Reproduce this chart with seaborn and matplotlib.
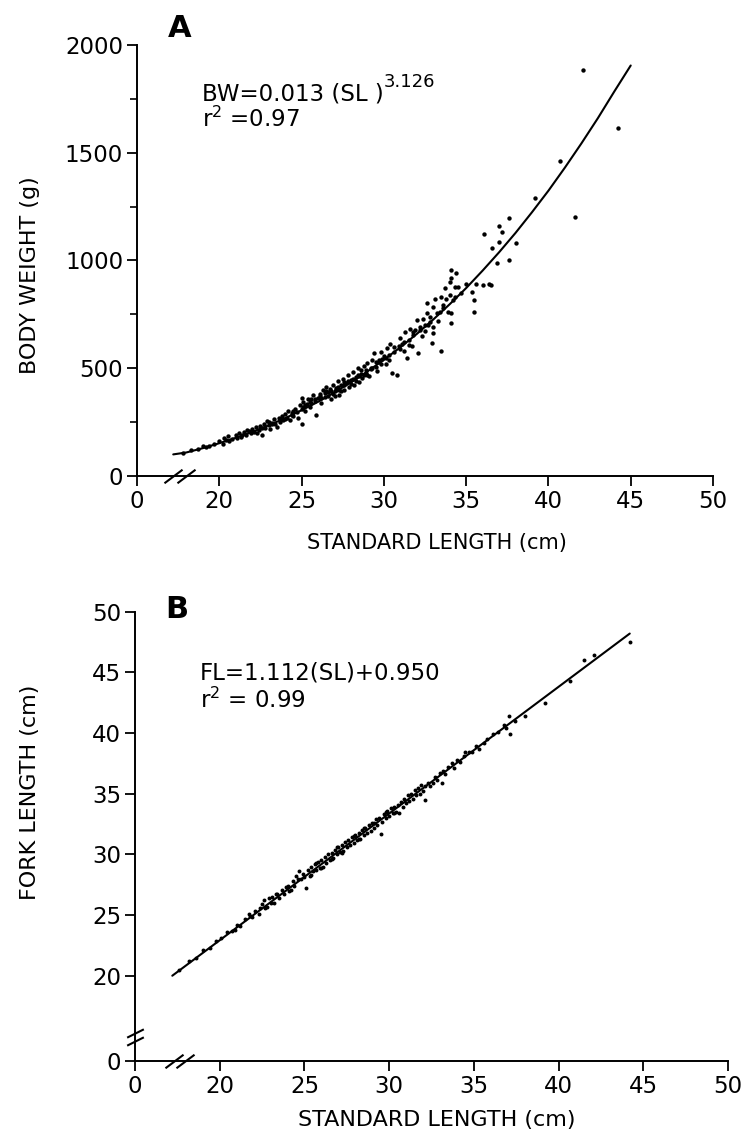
import matplotlib
matplotlib.use("Agg")
import matplotlib.pyplot as plt
from matplotlib.path import Path
import seaborn as sns

# Panel A: body weight vs standard length
sl_a = [17.8, 18.3, 18.7, 19.0, 19.4, 19.7, 20.0, 20.2, 20.3, 20.5,
        20.6, 20.8, 21.0, 21.1, 21.3, 21.5, 21.6, 21.7, 21.9, 22.0,
        22.1, 22.2, 22.4, 22.5, 22.6, 22.7, 22.8, 22.9, 23.0, 23.1,
        23.2, 23.3, 23.4, 23.5, 23.6, 23.7, 23.8, 23.9, 24.0, 24.1,
        24.2, 24.3, 24.4, 24.5, 24.6, 24.7, 24.8, 24.9, 25.0, 25.0,
        25.0, 25.1, 25.2, 25.3, 25.4, 25.5, 25.6, 25.7, 25.8, 25.9,
        26.0, 26.1, 26.2, 26.3, 26.4, 26.5, 26.6, 26.7, 26.8, 26.9,
        27.0, 27.1, 27.2, 27.3, 27.4, 27.5, 27.6, 27.7, 27.8, 27.9,
        28.0, 28.1, 28.2, 28.3, 28.4, 28.5, 28.6, 28.7, 28.8, 28.9,
        29.0, 29.1, 29.2, 29.3, 29.4, 29.5, 29.6, 29.7, 29.8, 29.9,
        30.0, 30.1, 30.2, 30.3, 30.4, 30.5, 30.6, 30.8, 30.9, 31.0,
        31.1, 31.2, 31.3, 31.4, 31.5, 31.6, 31.7, 31.8, 31.9, 32.0,
        32.1, 32.2, 32.3, 32.4, 32.5, 32.6, 32.6, 32.7, 32.8, 32.9,
        33.0, 33.0, 33.0, 33.1, 33.2, 33.3, 33.5, 33.5, 33.6, 33.7,
        33.8, 33.9, 34.0, 34.0, 34.1, 34.1, 34.1, 34.1, 34.2, 34.3,
        34.4, 34.5, 34.7, 35.0, 35.35, 35.5, 35.5, 35.6, 36.0, 36.06,
        36.4, 36.5, 36.6, 36.9, 37.0, 37.0, 37.2, 37.6, 37.6, 38.0,
        39.2, 40.7, 41.6, 42.1, 44.2,
        26.2, 26.6, 27.0, 27.3, 27.6, 28.0, 28.3, 28.6, 29.0, 29.3,
        29.8, 30.3, 22.3, 23.0, 24.0, 24.5, 25.5, 25.2, 21.2, 20.4,
        19.2, 27.8, 28.8, 29.5, 31.0, 31.5, 32.5, 33.4, 26.9, 27.4,
        21.4, 21.8, 22.6, 23.2, 23.8, 24.4, 25.1, 25.6, 26.1, 26.5,
        26.8, 27.2, 27.6, 28.1, 28.4, 28.9, 29.2, 29.7, 30.1, 30.6,
        31.2, 31.8, 32.2, 32.8, 33.6, 34.3, 25.8, 26.4, 27.1, 28.5]
bw_a = [108, 120, 126, 140, 138, 150, 162, 148, 175, 185,
        160, 170, 192, 176, 182, 205, 190, 212, 198, 218,
        206, 225, 212, 232, 190, 240, 222, 255, 236, 218,
        248, 262, 240, 228, 268, 252, 278, 258, 286, 270,
        300, 258, 290, 278, 312, 295, 270, 330, 312, 362,
        240, 345, 302, 332, 356, 322, 340, 374, 350, 285,
        362, 382, 338, 398, 366, 412, 372, 402, 356, 424,
        392, 408, 442, 378, 420, 452, 398, 432, 468, 414,
        446, 482, 424, 460, 502, 438, 472, 456, 512, 480,
        522, 466, 496, 540, 570, 506, 488, 528, 576, 542,
        556, 520, 592, 562, 612, 478, 576, 470, 602, 642,
        612, 582, 668, 548, 632, 682, 602, 652, 678, 724,
        571, 690, 650, 728, 672, 756, 804, 700, 740, 617,
        693, 663, 782, 822, 758, 718, 581, 832, 792, 874,
        820, 762, 900, 842, 710, 756, 919, 956, 817, 878,
        940, 878, 850, 890, 855, 817, 762, 891, 886, 1121,
        891, 886, 1058, 988, 1160, 1086, 1133, 1197, 1002, 1081,
        1290, 1462, 1202, 1884, 1615,
        360, 390, 370, 400, 420, 425, 440, 492, 470, 500,
        520, 540, 200, 250, 262, 300, 345, 330, 198, 168,
        135, 440, 470, 530, 590, 610, 700, 760, 380, 395,
        188, 208, 222, 240, 262, 282, 318, 356, 372, 392,
        394, 414, 436, 448, 470, 492, 502, 536, 548, 598,
        620, 668, 676, 716, 780, 830, 356, 384, 398, 462]

# fitted curve as drawn in panel A
curve_sl = [17.2, 18, 19, 20, 21, 22, 23, 24, 25, 26, 27, 28, 29, 30, 31,
            32, 33, 34, 35, 36, 37, 38, 39, 40, 41, 42, 43, 44, 45]
curve_bw = [100, 109, 129, 152, 177, 204, 235, 268, 305, 344, 388, 434, 485,
            539, 597, 659, 726, 797, 872, 953, 1038, 1128, 1224, 1324, 1431,
            1543, 1660, 1784, 1905]

# Panel B: fork length vs standard length
sl_b = [17.6, 18.2, 18.6, 19.0, 19.4, 19.8, 20.1, 20.4, 20.7, 21.0,
        21.2, 21.5, 21.7, 21.9, 22.1, 22.3, 22.5, 22.6, 22.7, 22.9,
        23.0, 23.1, 23.2, 23.4, 23.5, 23.7, 23.8, 24.0, 24.1, 24.3,
        24.4, 24.6, 24.7, 24.8, 24.9, 25.0, 25.1, 25.2, 25.3, 25.4,
        25.5, 25.6, 25.7, 25.8, 25.9, 26.0, 26.1, 26.2, 26.3, 26.4,
        26.5, 26.6, 26.7, 26.8, 26.9, 27.0, 27.1, 27.2, 27.3, 27.4,
        27.5, 27.6, 27.7, 27.8, 27.9, 28.0, 28.1, 28.2, 28.3, 28.4,
        28.5, 28.6, 28.7, 28.8, 28.9, 29.0, 29.1, 29.2, 29.3, 29.4,
        29.5, 29.6, 29.7, 29.8, 29.9, 30.0, 30.1, 30.2, 30.3, 30.4,
        30.5, 30.6, 30.7, 30.8, 30.9, 31.0, 31.1, 31.2, 31.3, 31.4,
        31.5, 31.6, 31.7, 31.8, 31.9, 32.0, 32.1, 32.1, 32.3, 32.4,
        32.6, 32.7, 32.8, 33.0, 33.1, 33.2, 33.3, 33.5, 33.7, 33.8,
        34.0, 34.2, 34.4, 34.5, 34.7, 34.9, 35.1, 35.3, 35.6, 35.8,
        36.1, 36.4, 36.75, 36.9, 37.1, 37.15, 37.4, 38.0, 39.2, 40.65,
        41.5, 42.1, 44.2,
        20.9, 21.8, 22.4, 23.3, 24.2, 25.4, 26.0, 26.6, 27.2, 27.9,
        28.5, 29.1, 29.8, 30.3, 24.5, 23.9, 22.8, 25.7, 26.9, 28.2]
fl_b = [20.5, 21.2, 21.5, 22.1, 22.3, 22.9, 23.1, 23.6, 23.7, 24.2,
        24.1, 24.7, 25.1, 24.8, 25.3, 25.1, 25.9, 26.2, 25.6, 26.4,
        26.0, 26.5, 26.0, 26.7, 26.4, 27.1, 26.7, 27.4, 27.0, 27.8,
        27.4, 28.0, 28.6, 28.0, 28.4, 28.1, 27.2, 28.7, 28.2, 29.0,
        28.6, 29.2, 28.7, 29.4, 28.9, 29.5, 29.0, 29.8, 29.3, 30.0,
        29.5, 30.1, 29.7, 30.4, 30.0, 30.6, 30.2, 30.8, 30.3, 31.0,
        30.6, 31.2, 30.8, 31.4, 30.9, 31.6, 31.2, 31.8, 31.3, 32.0,
        31.6, 32.2, 31.8, 32.4, 31.9, 32.6, 32.2, 32.9, 32.4, 33.0,
        31.7, 32.7, 33.3, 33.0, 33.6, 33.2, 33.8, 33.4, 33.9, 33.5,
        34.1, 33.4, 34.3, 33.9, 34.6, 34.2, 34.9, 34.4, 35.0, 34.6,
        35.3, 34.9, 35.5, 35.0, 35.7, 35.2, 35.6, 34.5, 35.9, 35.6,
        35.9, 36.4, 36.1, 36.7, 35.9, 36.9, 36.6, 37.2, 37.5, 37.1,
        37.8, 37.6, 38.1, 38.4, 38.4, 38.4, 38.9, 38.7, 39.2, 39.5,
        39.9, 40.1, 40.7, 40.4, 41.4, 39.9, 41.0, 41.4, 42.5, 44.3,
        46.0, 46.4, 47.5,
        23.8, 24.9, 25.6, 26.7, 27.1, 28.3, 28.9, 29.6, 30.1, 31.5,
        32.2, 32.6, 33.5, 33.4, 28.2, 27.3, 25.7, 29.3, 30.6, 31.3]

# fitted line as drawn in panel B
fit_sl = [17.2, 44.2]
fit_fl = [20.0, 48.2]

a_xticks = [15, 20, 25, 30, 35, 40, 45, 50]
a_xticklabels = ["0", "20", "25", "30", "35", "40", "45", "50"]
a_yticks = [0, 500, 1000, 1500, 2000]
b_yticks = [13, 20, 25, 30, 35, 40, 45, 50]
b_yticklabels = ["0", "20", "25", "30", "35", "40", "45", "50"]

sns.set_theme(style="ticks")
plt.rcParams["font.family"] = ["DejaVu Sans"]
plt.rcParams["mathtext.default"] = "regular"
plt.rcParams["text.color"] = "black"
plt.rcParams["axes.labelcolor"] = "black"
plt.rcParams["xtick.color"] = "black"
plt.rcParams["ytick.color"] = "black"

fig = plt.figure(figsize=(7.48, 11.4), dpi=100)
ax_a = fig.add_axes([0.1832, 0.5825, 0.770, 0.378])
ax_b = fig.add_axes([0.1805, 0.0696, 0.7928, 0.3938])

slash = Path([(-1.0, -0.75), (1.0, 0.75)], [Path.MOVETO, Path.LINETO])
slash_v = Path([(-0.9, -0.45), (0.9, 0.45)], [Path.MOVETO, Path.LINETO])


def style_axis(ax):
    sns.despine(ax=ax)
    for s in ("left", "bottom"):
        ax.spines[s].set_linewidth(1.4)
        ax.spines[s].set_color("black")
    ax.tick_params(axis="both", which="major", direction="out", length=7,
                   width=1.3, labelsize=16.5, colors="black", pad=3)
    ax.tick_params(axis="both", which="minor", direction="out", length=5,
                   width=1.2, color="black")
    ax.set_facecolor("white")


def equation(ax, x, y, main, sup):
    t = ax.text(x, y, main, transform=ax.transAxes, fontsize=16.5, va="baseline")
    if sup:
        ax.annotate(sup, xy=(1.0, 0.62), xycoords=t, fontsize=13,
                    va="bottom", ha="left")
    return t


# ---- panel A
sns.scatterplot(x=sl_a, y=bw_a, color="black", s=10, linewidth=0, ax=ax_a)
sns.lineplot(x=curve_sl, y=curve_bw, color="black", linewidth=1.5, ax=ax_a)
ax_a.set_xlim(15, 50)
ax_a.set_ylim(0, 2000)
ax_a.set_xticks(a_xticks)
ax_a.set_xticklabels(a_xticklabels)
ax_a.set_yticks(a_yticks)
ax_a.set_yticks([250, 750, 1250, 1750], minor=True)
style_axis(ax_a)
ax_a.set_xlabel("STANDARD LENGTH (cm)", fontsize=15)
ax_a.set_ylabel("BODY WEIGHT (g)", fontsize=16)
ax_a.xaxis.set_label_coords(0.521, -0.132)
ax_a.yaxis.set_label_coords(-0.168, 0.466)
ax_a.plot([17.2, 18.0], [0, 0], transform=ax_a.get_xaxis_transform(),
          marker=slash, ms=13, mew=1.5, color="black", ls="none", clip_on=False)
equation(ax_a, 0.113, 0.872, "BW=0.013 (SL )", "3.126")
ax_a.text(0.113, 0.81, "r$^{2}$ =0.97", transform=ax_a.transAxes,
          fontsize=16.5, va="baseline")
fig.text(0.2246, 0.9675, "A", fontsize=22, fontweight="bold", va="baseline")

# ---- panel B
sns.scatterplot(x=sl_b, y=fl_b, color="black", s=8, linewidth=0, ax=ax_b)
sns.lineplot(x=fit_sl, y=fit_fl, color="black", linewidth=1.5, ax=ax_b)
ax_b.set_xlim(15, 50)
ax_b.set_ylim(13, 50)
ax_b.set_xticks(a_xticks)
ax_b.set_xticklabels(a_xticklabels)
ax_b.set_yticks(b_yticks)
ax_b.set_yticklabels(b_yticklabels)
style_axis(ax_b)
ax_b.set_xlabel("STANDARD LENGTH (cm)", fontsize=16)
ax_b.set_ylabel("FORK LENGTH (cm)", fontsize=16)
ax_b.xaxis.set_label_coords(0.508, -0.11)
ax_b.yaxis.set_label_coords(-0.160, 0.598)
ax_b.plot([17.3, 17.95], [0, 0], transform=ax_b.get_xaxis_transform(),
          marker=slash, ms=13, mew=1.5, color="black", ls="none", clip_on=False)
ax_b.plot([0, 0], [15.3, 14.6], transform=ax_b.get_yaxis_transform(),
          marker=slash_v, ms=12, mew=1.5, color="black", ls="none", clip_on=False)
equation(ax_b, 0.11, 0.848, "FL=1.112(SL)+0.950", None)
ax_b.text(0.11, 0.785, "r$^{2}$ = 0.99", transform=ax_b.transAxes,
          fontsize=16.5, va="baseline")
fig.text(0.2206, 0.4579, "B", fontsize=22, fontweight="bold", va="baseline")

fig.savefig("out.png", dpi=100, facecolor="white")
plt.close(fig)
